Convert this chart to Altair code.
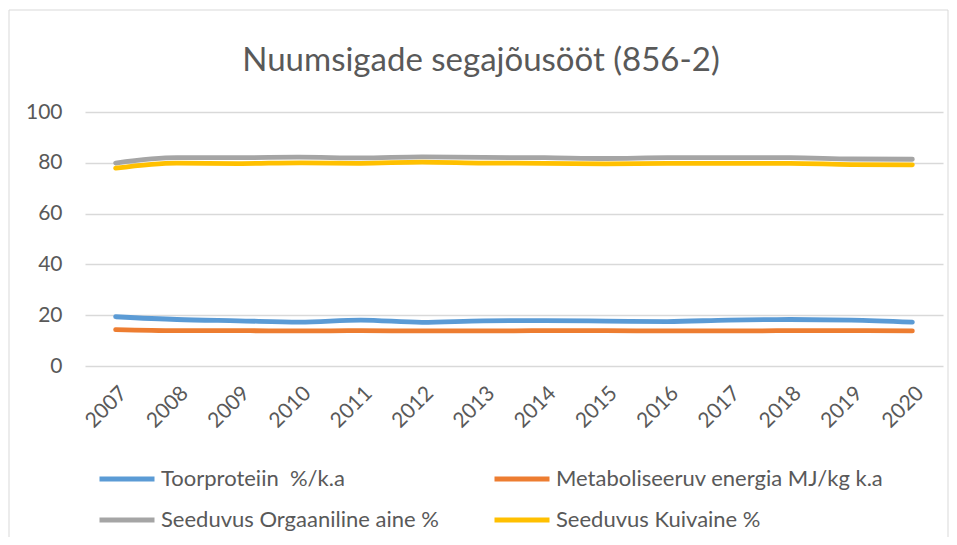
import altair as alt
import pandas as pd

years = [str(y) for y in range(2007, 2021)]
series_names = [
    "Toorproteiin\u00a0 %/k.a",
    "Metaboliseeruv energia MJ/kg k.a",
    "Seeduvus Orgaaniline aine %",
    "Seeduvus Kuivaine %",
]
toorproteiin = [19.4, 18.3, 17.8, 17.3, 18.1, 17.2, 17.8, 17.9, 17.7, 17.5, 18.1, 18.3, 18.1, 17.3]
energia = [14.3, 13.9, 13.9, 13.8, 13.9, 13.8, 13.8, 13.9, 13.9, 13.8, 13.8, 13.9, 13.9, 13.8]
orgaaniline = [79.9, 82.0, 82.0, 82.2, 81.9, 82.3, 82.1, 82.0, 81.7, 82.0, 82.0, 82.0, 81.5, 81.4]
kuivaine = [77.9, 79.9, 79.7, 80.0, 79.8, 80.3, 79.9, 79.8, 79.6, 79.8, 79.8, 79.8, 79.3, 79.2]
colors = ["#5B9BD5", "#ED7D31", "#A5A5A5", "#FFC000"]

rows = []
for name, vals in zip(series_names, [toorproteiin, energia, orgaaniline, kuivaine]):
    for y, v in zip(years, vals):
        rows.append({"year": y, "value": v, "series": name, "order": series_names.index(name)})
df = pd.DataFrame(rows)

FONT = "Lato"
TXT = "#595959"
W, H = 858, 254

lines = alt.Chart(df).mark_line(strokeWidth=4.8, strokeCap="round", strokeJoin="round", interpolate="monotone").encode(
    x=alt.X("year:O", sort=years, title=None,
            axis=alt.Axis(labelAngle=-45, labelFontSize=21, labelColor=TXT, labelFont=FONT,
                          ticks=False, domain=False, labelPadding=16)),
    y=alt.Y("value:Q", scale=alt.Scale(domain=[0, 100]), title=None,
            axis=alt.Axis(values=[0, 20, 40, 60, 80, 100], labelFontSize=21, labelColor=TXT, labelFont=FONT,
                          ticks=False, domain=False, gridColor="#D9D9D9", gridWidth=1.3, labelPadding=23)),
    color=alt.Color("series:N", sort=series_names,
                    scale=alt.Scale(domain=series_names, range=colors),
                    legend=alt.Legend(title=None, orient="none", legendX=12, legendY=337, columns=2,
                                      direction="horizontal", padding=0,
                                      symbolType="stroke", symbolStrokeWidth=5, symbolSize=3025,
                                      labelFontSize=22, labelColor=TXT, labelFont=FONT,
                                      columnPadding=45, rowPadding=-11, labelOffset=4, labelLimit=500)),
    order=alt.Order("order:Q"),
    detail="series:N",
)

frame = alt.Chart(pd.DataFrame({"a": [0]})).mark_rect(fill=None, stroke="#D9D9D9", strokeWidth=1).encode(
    x=alt.value(-76), x2=alt.value(W + 5), y=alt.value(-102), y2=alt.value(H + 200)
)

chart = alt.layer(frame, lines).properties(
    width=W, height=H,
    title=alt.TitleParams("Nuumsigade segajõusööt (856-2)", fontSize=33, font=FONT, fontWeight="normal",
                          color=TXT, anchor="middle", frame="group", baseline="alphabetic",
                          offset=-94, dx=-33),
    autosize=alt.AutoSizeParams(type="none"),
    padding={"left": 77, "top": 104, "right": 6, "bottom": 171},
).configure_view(stroke=None)

chart.save("out.html", embed_options={"renderer": "svg", "actions": False})
